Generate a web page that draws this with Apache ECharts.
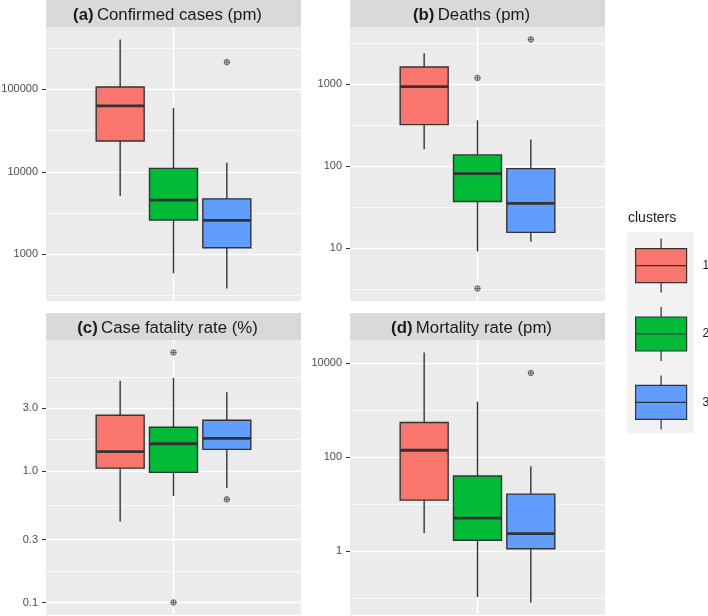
<!DOCTYPE html>
<html><head><meta charset="utf-8">
<script src="https://cdn.jsdelivr.net/npm/echarts@6/dist/echarts.min.js"></script>
<style>html,body{margin:0;padding:0;background:#fff}#c{width:708px;height:616px}</style>
</head><body><div id="c"></div>
<script>
// ---------------- data ----------------
const clusters = ['1', '2', '3'];
const clusterColors = ['#F8766D', '#00BA38', '#619CFF'];

// box stats per cluster: [lower whisker, Q1, median, Q3, upper whisker]
const casesBox  = [[5090, 23600, 62900, 106700, 403000], [589, 2600, 4540, 11000, 59500], [384, 1200, 2580, 4700, 12900]];
const casesOut  = [[], [], [214000]];
const deathsBox = [[160, 321, 935, 1622, 2377], [9.1, 37, 81, 137, 362], [11.9, 15.5, 35, 93, 211]];
const deathsOut = [[], [1192, 3.2], [3513]];
const cfrBox    = [[0.413, 1.05, 1.40, 2.65, 4.84], [0.645, 0.975, 1.61, 2.15, 5.1], [0.743, 1.46, 1.77, 2.43, 3.96]];
const cfrOut    = [[], [7.95, 0.1], [0.608]];
const mortBox   = [[2.43, 12.1, 140, 547, 16900], [0.105, 1.69, 5.0, 39.6, 1515], [0.08, 1.12, 2.35, 16.3, 63.6]];
const mortOut   = [[], [], [6200]];

// axis breaks
const casesTicks = [1000, 10000, 100000];
const casesTickLabels = ['1000', '10000', '100000'];
const casesMinor = [316.2, 3162, 31623, 316228];
const deathsTicks = [10, 100, 1000];
const deathsTickLabels = ['10', '100', '1000'];
const deathsMinor = [3.162, 31.62, 316.2, 3162];
const cfrTicks = [0.1, 0.3, 1, 3];
const cfrTickLabels = ['0.1', '0.3', '1.0', '3.0'];
const cfrMinor = [0.1732, 0.5477, 1.732, 5.2];
const mortTicks = [1, 100, 10000];
const mortTickLabels = ['1', '100', '10000'];
const mortMinor = [0.1, 10, 1000];

const panelTags = ['(a)', '(b)', '(c)', '(d)'];
const panelTitles = ['Confirmed cases (pm)', 'Deaths (pm)', 'Case fatality rate (%)', 'Mortality rate (pm)'];

// ---------------- layout ----------------
const FONT = '"Liberation Sans", Arial, Helvetica, sans-serif';
const panels = [
  {box: casesBox,  out: casesOut,  ticks: casesTicks,  labels: casesTickLabels,  minor: casesMinor,  left: 46,  top: 27,  h: 274, stripTop: 0},
  {box: deathsBox, out: deathsOut, ticks: deathsTicks, labels: deathsTickLabels, minor: deathsMinor, left: 350, top: 27,  h: 274, stripTop: 0},
  {box: cfrBox,    out: cfrOut,    ticks: cfrTicks,    labels: cfrTickLabels,    minor: cfrMinor,    left: 46,  top: 340, h: 275, stripTop: 313},
  {box: mortBox,   out: mortOut,   ticks: mortTicks,   labels: mortTickLabels,   minor: mortMinor,   left: 350, top: 340, h: 275, stripTop: 313}
];
const PW = 255, INNER_W = 160, STRIP_H = 27;

const grid = [], xAxis = [], yAxis = [], series = [], graphic = [];
const outlierSymbol = 'path://M10,0A10,10,0,1,1,10,20A10,10,0,1,1,10,0ZM0,10L20,10M10,0L10,20';

function renderBox(params, api) {
  const x = api.value(0);
  const pMin = api.coord([x, api.value(1)]);
  const pQ1 = api.coord([x, api.value(2)]);
  const pMed = api.coord([x, api.value(3)]);
  const pQ3 = api.coord([x, api.value(4)]);
  const pMax = api.coord([x, api.value(5)]);
  const w = api.size([1, 1], [x, 1])[0] * 0.9;
  const c = clusterColors[x];
  return {
    type: 'group',
    children: [
      {type: 'line', shape: {x1: pMin[0], y1: pMin[1], x2: pMax[0], y2: pMax[1]}, style: {stroke: '#333333', lineWidth: 1.4}},
      {type: 'rect', shape: {x: pQ3[0] - w / 2, y: pQ3[1], width: w, height: pQ1[1] - pQ3[1]}, style: {fill: c, stroke: '#333333', lineWidth: 1.4}},
      {type: 'line', shape: {x1: pMed[0] - w / 2, y1: pMed[1], x2: pMed[0] + w / 2, y2: pMed[1]}, style: {stroke: '#333333', lineWidth: 2.8}}
    ]
  };
}

panels.forEach((p, i) => {
  // y range with 5% expansion in log space (ggplot default)
  const all = [];
  p.box.forEach(b => b.forEach(v => all.push(Math.log10(v))));
  p.out.forEach(o => o.forEach(v => all.push(Math.log10(v))));
  const lo = Math.min(...all), hi = Math.max(...all);
  const pad = (hi - lo) * 0.05;
  const yMin = Math.pow(10, lo - pad), yMax = Math.pow(10, hi + pad);

  const gA = grid.length;
  grid.push({left: p.left, top: p.top, width: PW, height: p.h, show: true, backgroundColor: '#EBEBEB', borderWidth: 0,
    containLabel: false, outerBoundsMode: 'none'});
  const gB = grid.length;
  grid.push({left: p.left + (PW - INNER_W) / 2, top: p.top, width: INNER_W, height: p.h, show: false,
    containLabel: false, outerBoundsMode: 'none'});

  // background axes (grid lines, labels)
  xAxis.push({gridIndex: gA, type: 'value', min: 0, max: 2, axisLine: {show: false},
    axisTick: {show: false, customValues: [1]}, axisLabel: {show: false},
    splitLine: {show: true, lineStyle: {color: '#FFFFFF', width: 1.4}}});
  yAxis.push({gridIndex: gA, type: 'log', logBase: 10, min: yMin, max: yMax, position: 'left',
    axisLine: {show: false},
    axisTick: {show: true, length: 4, customValues: p.ticks, lineStyle: {color: '#333333', width: 1}},
    axisLabel: {show: true, customValues: p.ticks, margin: 8, color: '#4D4D4D', fontSize: 11, fontFamily: FONT,
      formatter: v => { const k = p.ticks.findIndex(t => Math.abs(t - v) / t < 1e-6); return k >= 0 ? p.labels[k] : ''; }},
    splitLine: {show: true, lineStyle: {color: '#FFFFFF', width: 1.4}}});
  yAxis.push({gridIndex: gA, type: 'log', logBase: 10, min: yMin, max: yMax, position: 'right',
    axisLine: {show: false}, axisTick: {show: false, customValues: p.minor}, axisLabel: {show: false, customValues: p.minor},
    splitLine: {show: true, lineStyle: {color: '#FFFFFF', width: 0.7}}});

  // data axes
  const xB = xAxis.length;
  xAxis.push({gridIndex: gB, type: 'category', data: clusters, show: false});
  const yB = yAxis.length;
  yAxis.push({gridIndex: gB, type: 'log', logBase: 10, min: yMin, max: yMax, show: false});

  p.box.forEach((b, k) => {
    series.push({
      name: clusters[k], type: 'custom', xAxisIndex: xB, yAxisIndex: yB,
      itemStyle: {color: clusterColors[k]},
      encode: {x: 0, y: [1, 2, 3, 4, 5]},
      renderItem: renderBox,
      data: [[k].concat(b)],
      z: 3
    });
  });
  const outData = [];
  p.out.forEach((o, k) => o.forEach(v => outData.push([k, v])));
  series.push({
    name: 'outliers', type: 'scatter', xAxisIndex: xB, yAxisIndex: yB,
    symbol: outlierSymbol, symbolSize: 5.5,
    itemStyle: {color: 'rgba(90,90,90,0.3)', borderColor: '#444444', borderWidth: 0.9},
    data: outData, z: 4, silent: true
  });

  // strip
  graphic.push({type: 'rect', left: p.left, top: p.stripTop, shape: {width: PW, height: STRIP_H}, style: {fill: '#D9D9D9'}, silent: true});
  graphic.push({type: 'text', x: p.left + PW / 2 - 6, y: p.stripTop + STRIP_H / 2 + 1.5, silent: true,
    style: {text: '{b|' + panelTags[i] + '} {n|' + panelTitles[i] + '}', align: 'center', verticalAlign: 'middle',
      rich: {b: {fontWeight: 'bold', fontSize: 16.8, fontFamily: FONT, fill: '#1A1A1A'},
             n: {fontSize: 16.8, fontFamily: FONT, fill: '#1A1A1A'}}}});
});

// legend decoration
graphic.push({type: 'text', left: 628, top: 211, silent: true,
  style: {text: 'clusters', fontSize: 14, fontFamily: FONT, fill: '#1A1A1A'}});
graphic.push({type: 'rect', left: 627, top: 232, shape: {width: 67, height: 201.5}, style: {fill: '#F2F2F2'}, silent: true, z: -1});

const boxIcon = 'path://M0,10L51,10L51,44L0,44ZM0,27L51,27M25.5,0L25.5,10M25.5,44L25.5,54';

const option = {
  animation: false,
  backgroundColor: '#FFFFFF',
  grid, xAxis, yAxis, series, graphic,
  legend: {
    orient: 'vertical', left: 635, top: 238, itemWidth: 51, itemHeight: 54, itemGap: 13.2,
    selectedMode: false, padding: 0,
    data: clusters.map((c, k) => ({name: c, icon: boxIcon,
      itemStyle: {color: clusterColors[k], borderColor: '#333333', borderWidth: 1.2}})),
    textStyle: {fontSize: 12, color: '#1A1A1A', fontFamily: FONT, padding: [0, 0, 0, 11]}
  }
};

const chart = echarts.init(document.getElementById('c'), null, {renderer: 'canvas'});
chart.setOption(option);
</script>
</body></html>
